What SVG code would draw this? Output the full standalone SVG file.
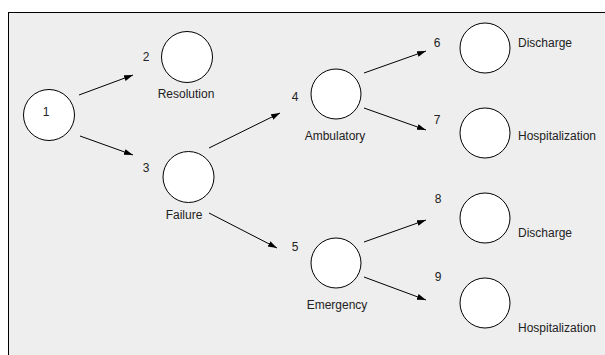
<svg xmlns="http://www.w3.org/2000/svg" width="605" height="355" viewBox="0 0 605 355">
<style>
.n{fill:#fff;stroke:#000;stroke-width:1}
.t{font-family:"Liberation Sans",Arial,sans-serif;font-size:12px;fill:#222}
.c{stroke:#000;stroke-width:1;fill:none;marker-end:url(#ah)}
</style>
<defs>
<marker id="ah" markerWidth="10" markerHeight="8" refX="9" refY="3.5" orient="auto" markerUnits="userSpaceOnUse">
<path d="M0,0.5 L9,3.5 L0,6.5 Z" fill="#000"/>
</marker>
</defs>
<rect x="8.5" y="12.5" width="610" height="360" fill="#eeeeee" stroke="#000" stroke-width="1"/>
<g id="connectors">
<line class="c" x1="79" y1="95" x2="133" y2="75"/>
<line class="c" x1="80" y1="136" x2="133" y2="155"/>
<line class="c" x1="209" y1="148" x2="280" y2="113"/>
<line class="c" x1="209" y1="213" x2="277" y2="248"/>
<line class="c" x1="364" y1="73" x2="426" y2="51"/>
<line class="c" x1="364" y1="108" x2="426" y2="130"/>
<line class="c" x1="364" y1="242" x2="426" y2="220"/>
<line class="c" x1="364" y1="277" x2="426" y2="300"/>
</g>
<g id="node1"><circle class="n" cx="49" cy="115" r="25.5"/><text class="t" x="46" y="116" text-anchor="middle">1</text></g>
<g id="node2"><circle class="n" cx="187" cy="57" r="25.5"/><text class="t" x="146" y="61" text-anchor="middle">2</text><text class="t" x="186" y="98" text-anchor="middle">Resolution</text></g>
<g id="node3"><circle class="n" cx="188.5" cy="177" r="25.5"/><text class="t" x="146" y="172" text-anchor="middle">3</text><text class="t" x="184" y="219" text-anchor="middle">Failure</text></g>
<g id="node4"><circle class="n" cx="336" cy="94" r="25"/><text class="t" x="295" y="101" text-anchor="middle">4</text><text class="t" x="335" y="140" text-anchor="middle">Ambulatory</text></g>
<g id="node5"><circle class="n" cx="336" cy="263" r="25"/><text class="t" x="295" y="251" text-anchor="middle">5</text><text class="t" x="337" y="309" text-anchor="middle">Emergency</text></g>
<g id="node6"><circle class="n" cx="485" cy="48" r="25"/><text class="t" x="437" y="47" text-anchor="middle">6</text><text class="t" x="518" y="47">Discharge</text></g>
<g id="node7"><circle class="n" cx="485" cy="133" r="25"/><text class="t" x="437" y="124" text-anchor="middle">7</text><text class="t" x="518" y="140">Hospitalization</text></g>
<g id="node8"><circle class="n" cx="485" cy="218" r="25"/><text class="t" x="438" y="203" text-anchor="middle">8</text><text class="t" x="518" y="237">Discharge</text></g>
<g id="node9"><circle class="n" cx="485" cy="303" r="25"/><text class="t" x="438" y="281" text-anchor="middle">9</text><text class="t" x="518" y="332">Hospitalization</text></g>
</svg>
